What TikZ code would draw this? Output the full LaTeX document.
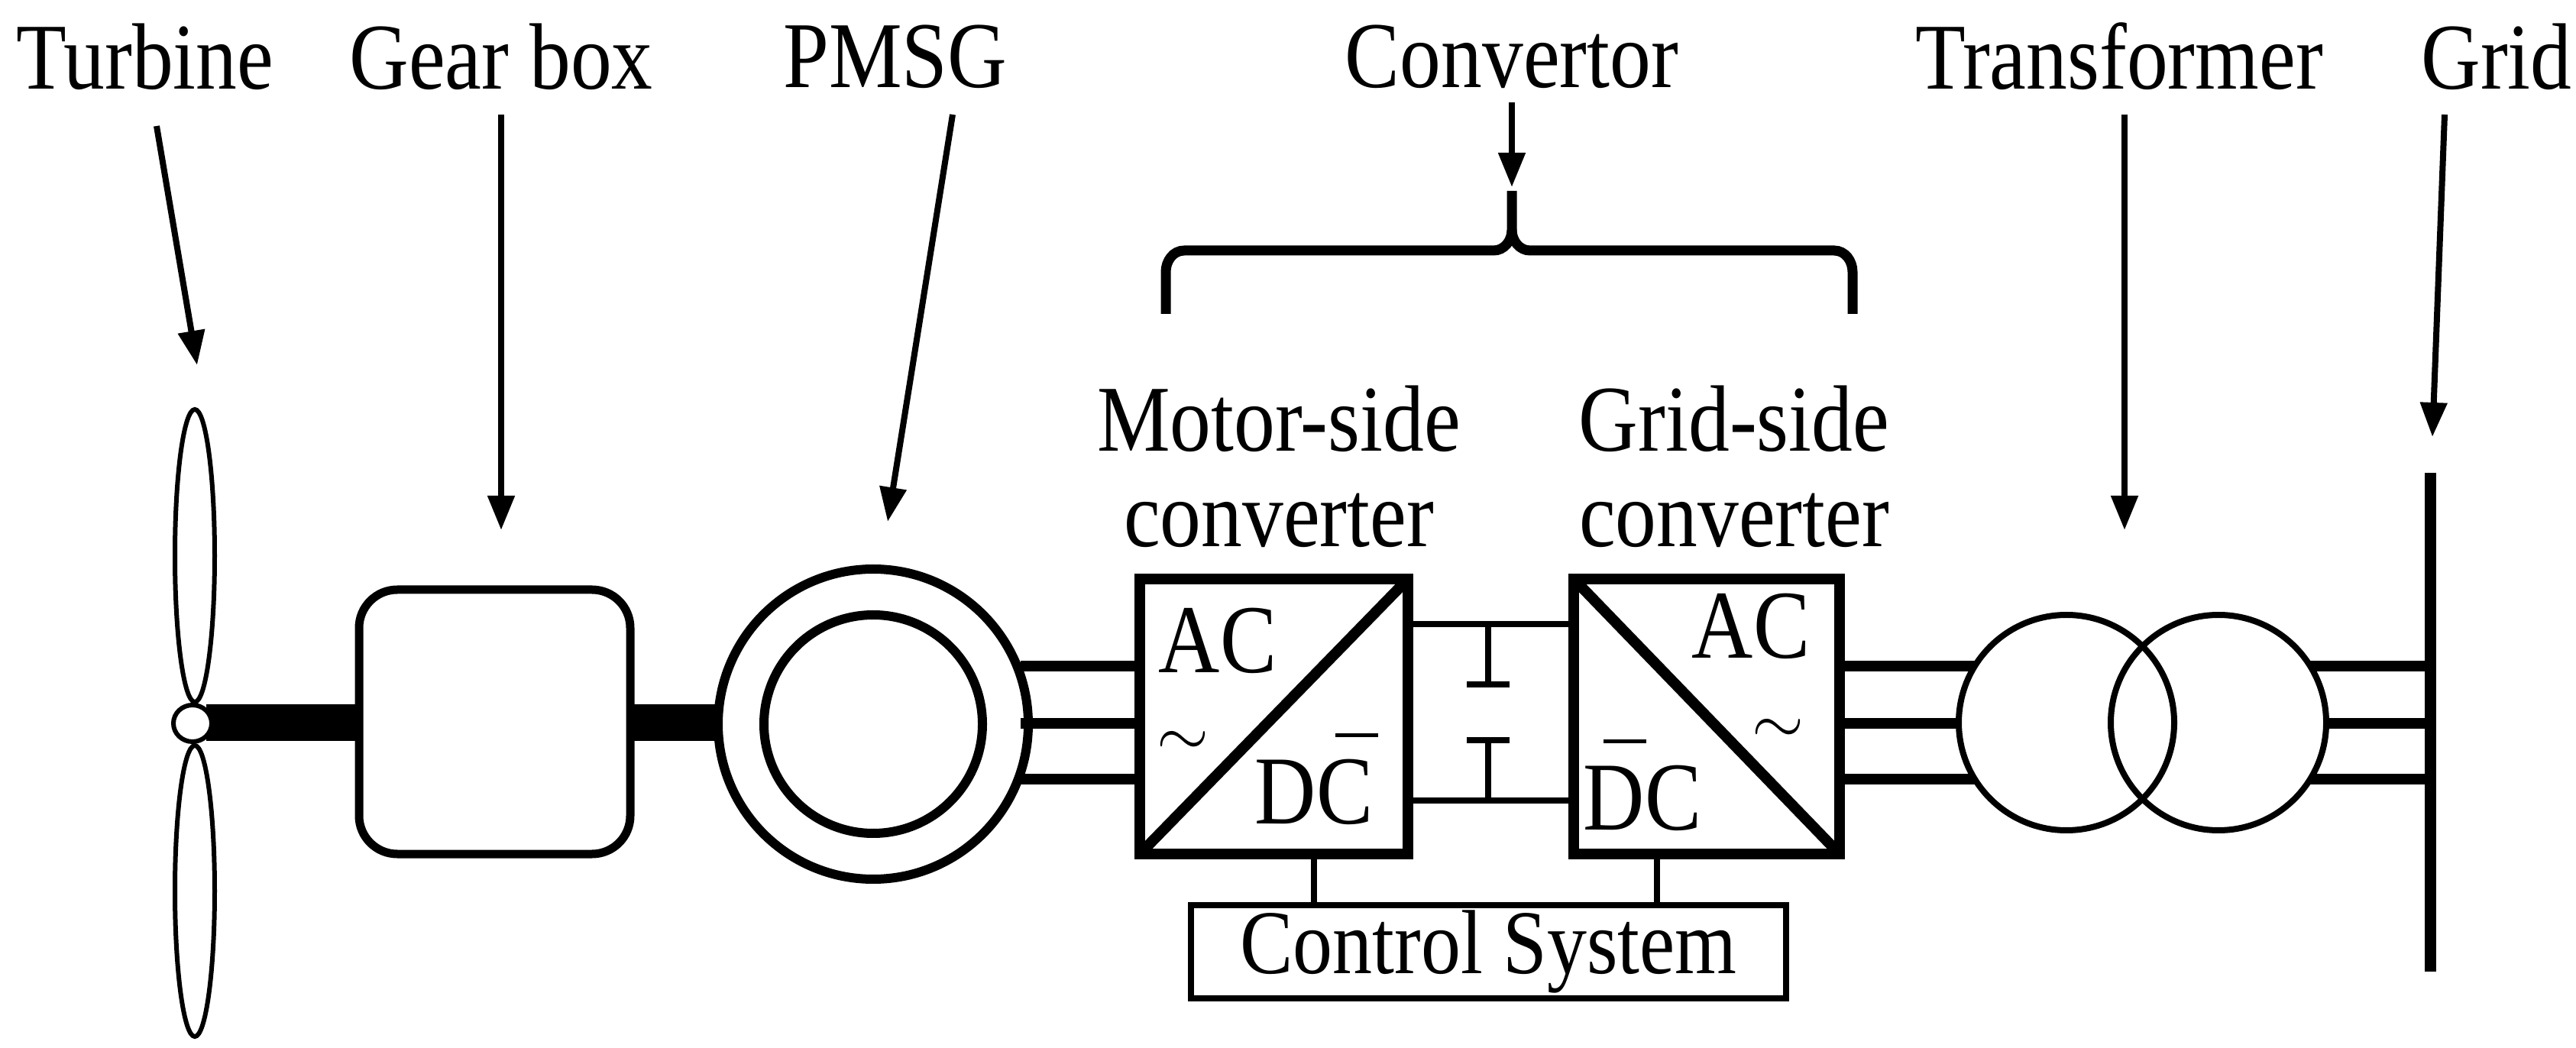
\documentclass[tikz,border=0pt]{standalone}
\usepackage{fontspec}
\setmainfont{Liberation Serif}
\usetikzlibrary{arrows.meta}
\newcommand\tall[1]{\scalebox{1.02}[1.17]{#1}}
\begin{document}
\begin{tikzpicture}[
  lbl/.style={font=\fontsize{30}{34}\selectfont, inner sep=0pt, align=center},
  ptr/.style={line width=0.08cm, -{Triangle[length=0.45cm,width=0.34cm]}},
  phase/.style={line width=0.14cm},
  thin/.style={line width=0.08cm},
  conv/.style={line width=0.14cm},
  acdc/.style={font=\fontsize{31}{34}\selectfont, inner sep=0pt}]
\useasboundingbox (0,0) rectangle (33.72,13.71);
% labels
\node[lbl] (tur) at (1.90,12.97) {\tall{Turbine}};
\node[lbl] (gb) at (6.56,12.97) {\tall{Gear box}};
\node[lbl] (pm) at (11.72,12.97) {\tall{PMSG}};
\node[lbl] (cv) at (19.79,12.97) {\tall{Convertor}};
\node[lbl] (tr) at (27.74,12.97) {\tall{Transformer}};
\node[lbl] (gr) at (32.68,12.97) {\tall{Grid}};
\node[lbl] (msc) at (16.74,7.60) {\tall{Motor-side}\\[0.05cm]\tall{converter}};
\node[lbl] (gsc) at (22.70,7.60) {\tall{Grid-side}\\[0.05cm]\tall{converter}};
% arrow tips
\coordinate (ttip) at (2.58,8.93);
\coordinate (gtip) at (6.56,6.77);
\coordinate (ptip) at (11.62,6.88);
\coordinate (ctip) at (19.79,11.26);
\coordinate (trtip) at (27.81,6.77);
\coordinate (grtip) at (31.84,7.99);
\draw[ptr] (2.05,12.06) -- (ttip);
\draw[ptr] (6.56,12.21) -- (gtip);
\draw[ptr] (12.47,12.21) -- (ptip);
\draw[ptr] (19.79,12.37) -- (ctip);
\draw[ptr] (27.81,12.21) -- (trtip);
\draw[ptr] (32.00,12.21) -- (grtip);
% brace
\draw[line width=0.13cm] (15.26,9.60) -- (15.26,10.15) to[out=90,in=180] (15.50,10.43) -- (19.55,10.43) to[out=0,in=-90] (19.79,10.70) -- (19.79,11.21);
\draw[line width=0.13cm] (24.25,9.60) -- (24.25,10.15) to[out=90,in=0] (24.01,10.43) -- (20.03,10.43) to[out=180,in=-90] (19.79,10.70);
% turbine
\draw[line width=0.06cm] (2.55,6.435) ellipse (0.26 and 1.915);
\draw[line width=0.06cm] (2.55,2.045) ellipse (0.26 and 1.905);
\fill (2.70,4.01) rectangle (4.65,4.49);
\fill (8.30,4.01) rectangle (9.45,4.49);
\draw[line width=0.06cm, fill=white] (2.52,4.24) ellipse (0.25 and 0.24);
% gearbox
\draw[line width=0.11cm, rounded corners=0.5cm] (4.70,2.53) rectangle (8.25,5.99);
% PMSG
\draw[line width=0.12cm] (11.43,4.23) circle (2.03);
\draw[line width=0.12cm] (11.43,4.23) circle (1.43);
% three phase PMSG -> motor-side
\foreach \y in {4.99,4.24,3.51} \draw[phase] (13.36,\y) -- (14.86,\y);
% converters
\draw[conv] (14.92,2.53) rectangle (18.43,6.13);
\draw[conv] (14.92,2.53) -- (18.43,6.13);
\draw[conv] (20.60,2.53) rectangle (24.08,6.13);
\draw[conv] (20.60,6.13) -- (24.08,2.53);
\node[acdc] (ac1) at (15.94,5.32) {\tall{AC}};
\node[acdc] (dc1) at (17.20,3.34) {\tall{DC}};
\node[acdc] (ac2) at (22.92,5.51) {\tall{AC}};
\node[acdc] (dc2) at (21.50,3.26) {\tall{DC}};
\node[lbl] (s1) at (15.48,3.98) {$\sim$};
\node[lbl] (s2) at (23.27,4.14) {$\sim$};
\draw[line width=0.05cm] (17.48,4.08) -- (18.04,4.08);
\draw[line width=0.05cm] (20.99,4.00) -- (21.55,4.00);
% DC link
\draw[thin] (18.50,5.54) -- (20.53,5.54);
\draw[thin] (18.50,3.23) -- (20.53,3.23);
\draw[thin] (19.48,5.54) -- (19.48,4.75);
\draw[thin] (19.48,3.23) -- (19.48,4.02);
\draw[thin] (19.20,4.75) -- (19.76,4.75);
\draw[thin] (19.20,4.02) -- (19.76,4.02);
% control system
\node[draw, thin, minimum width=7.79cm, minimum height=1.22cm, inner sep=0pt, font=\fontsize{29}{34}\selectfont] (cs) at (19.485,1.25) {\tall{Control System}};
\draw[thin] (17.20,2.46) -- (17.20,1.86);
\draw[thin] (21.69,2.46) -- (21.69,1.86);
% transformer
\draw[thin] (27.05,4.25) circle (1.41);
\draw[thin] (29.04,4.25) circle (1.41);
\draw[phase] (24.14,4.99) -- (25.85,4.99);
\draw[phase] (24.14,4.24) -- (25.64,4.24);
\draw[phase] (24.14,3.51) -- (25.85,3.51);
\draw[phase] (30.24,4.99) -- (31.81,4.99);
\draw[phase] (30.45,4.24) -- (31.81,4.24);
\draw[phase] (30.24,3.51) -- (31.81,3.51);
% grid bus
\draw[line width=0.15cm] (31.81,7.52) -- (31.81,0.99);
\end{tikzpicture}
\end{document}
